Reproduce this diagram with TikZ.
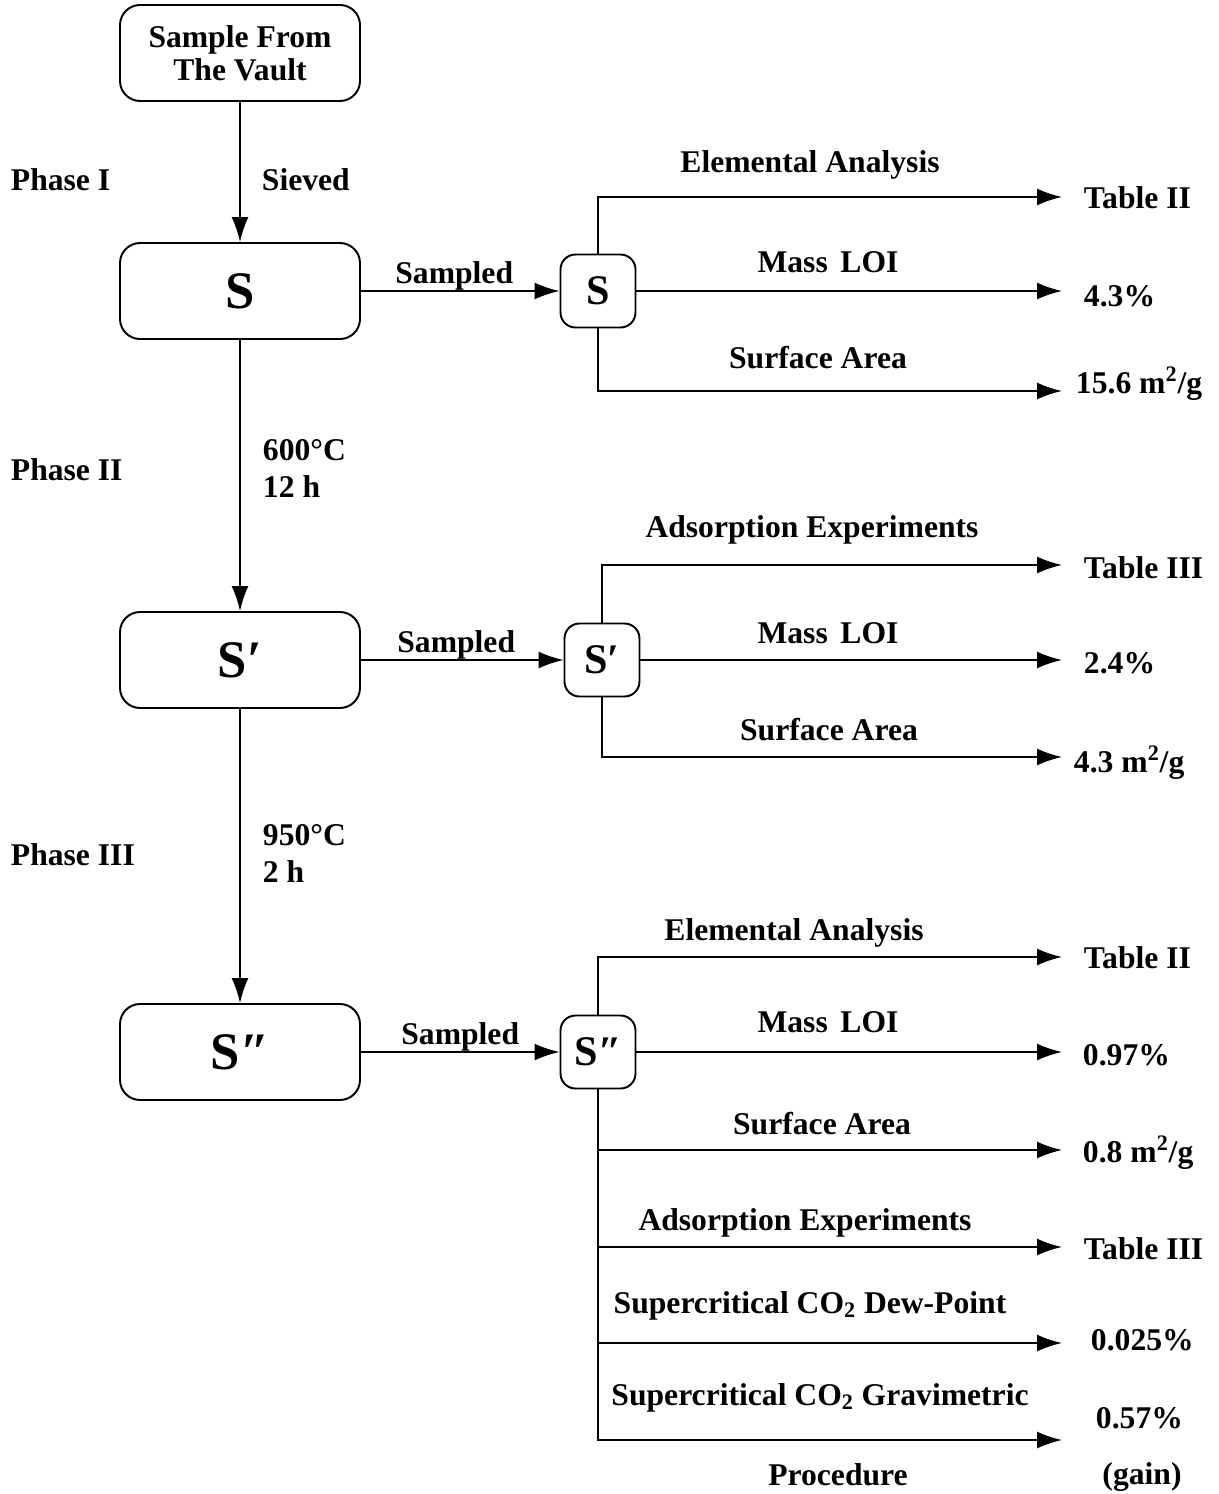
\documentclass[tikz,border=0pt]{standalone}
\usepackage{fontspec}
\setmainfont{Liberation Serif}
\usetikzlibrary{arrows.meta}
\tikzset{
  box/.style={draw, rounded corners=.4cm, minimum width=4.8cm, minimum height=1.92cm, font=\fontsize{30}{32}\selectfont\bfseries},
  smallbox/.style={draw, rounded corners=.3cm, minimum width=1.5cm, minimum height=1.46cm, inner sep=0pt, font=\fontsize{24}{26}\selectfont\bfseries},
  lbl/.style={anchor=base},
  res/.style={anchor=base west, inner xsep=0pt},
}
\begin{document}
\begin{tikzpicture}[x=0.02cm, y=-0.02cm, >={Latex[length=.5cm,width=.34cm]}, line width=1.1pt, every node/.append style={font=\fontsize{18}{21}\selectfont\bfseries}]
\useasboundingbox (0,0) rectangle (1218,1494);
% main chain
\node[box, font=\fontsize{18}{19}\selectfont\bfseries, align=center](vault) at (240,53){Sample From\\The Vault};
\node[box](s1) at (240,291){S};
\node[box](s2) at (240,660){S′};
\node[box](s3) at (240,1052){S″};
\draw[->](vault)--(s1);
\draw[->](s1)--(s2);
\draw[->](s2)--(s3);
\node[res](ph1) at (10,190){Phase I};
\node[res](sv) at (261,190){Sieved};
\node[res](ph2) at (10,480){Phase II};
\node[res](tp1) at (262,460){600°C};
\node[res](tm1) at (262,497){12 h};
\node[res](ph3) at (10,865){Phase III};
\node[res](tp2) at (262,845){950°C};
\node[res](tm2) at (262,882){2 h};

% samples
\node[smallbox](t1) at (598,291){S};
\node[smallbox](t2) at (602,660){S′};
\node[smallbox](t3) at (598,1052){S″};
\draw[->](s1.east)--(t1.west)node[midway, lbl, xshift=-.12cm, yshift=.15cm]{Sampled};
\draw[->](s2.east)--(t2.west)node[midway, lbl, xshift=-.12cm, yshift=.15cm]{Sampled};
\draw[->](s3.east)--(t3.west)node[midway, lbl, yshift=.15cm]{Sampled};

% group S
\coordinate(a1) at (1062,197);
\coordinate(a2) at (1062,291);
\coordinate(a3) at (1062,391);
\draw[->](t1.north)|-(a1);
\draw[->](t1.east)--(a2);
\draw[->](t1.south)|-(a3);
\node[lbl](ea1) at (810,172){Elemental Analysis};
\node[lbl](ml1) at (828,272){Mass\hspace{.4em}LOI};
\node[lbl](sa1) at (818,368){Surface Area};
\node[res](r1a) at (1083,208){Table II};
\node[res](r1b) at (1083,306){4.3\%};
\node[res](r1c) at (1075,393){15.6 m\textsuperscript{2}/g};

% group S'
\coordinate(b1) at (1062,565);
\coordinate(b2) at (1062,660);
\coordinate(b3) at (1062,757);
\draw[->](t2.north)|-(b1);
\draw[->](t2.east)--(b2);
\draw[->](t2.south)|-(b3);
\node[lbl](ae2) at (812,537){Adsorption Experiments};
\node[lbl](ml2) at (828,643){Mass\hspace{.4em}LOI};
\node[lbl](sa2) at (829,740){Surface Area};
\node[res](r2a) at (1083,578){Table III};
\node[res](r2b) at (1083,673){2.4\%};
\node[res](r2c) at (1073,772){4.3 m\textsuperscript{2}/g};

% group S''
\coordinate(c1) at (1062,957);
\coordinate(c2) at (1062,1052);
\coordinate(c3) at (1062,1150);
\coordinate(c4) at (1062,1247);
\coordinate(c5) at (1062,1343);
\coordinate(c6) at (1062,1440);
\draw[->](t3.north)|-(c1);
\draw[->](t3.east)--(c2);
\foreach \n in {3,...,6}
{
    \draw[->](t3.south)|-(c\n);
}
\node[lbl](ea3) at (794,940){Elemental Analysis};
\node[lbl](ml3) at (828,1032){Mass\hspace{.4em}LOI};
\node[lbl](sa3) at (822,1134){Surface Area};
\node[lbl](ae3) at (805,1230){Adsorption Experiments};
\node[lbl](dp3) at (810,1313){Supercritical CO\textsubscript{2} Dew-Point};
\node[lbl](gv3) at (820,1405){Supercritical CO\textsubscript{2} Gravimetric};
\node[lbl](pr3) at (838,1485){Procedure};
\node[res](r3a) at (1083,968){Table II};
\node[res](r3b) at (1082,1065){0.97\%};
\node[res](r3c) at (1082,1162){0.8 m\textsuperscript{2}/g};
\node[res](r3d) at (1083,1259){Table III};
\node[res](r3e) at (1090,1350){0.025\%};
\node[res](r3f) at (1095,1428){0.57\%};
\node[lbl](gn3) at (1142,1484){(gain)};
\end{tikzpicture}
\end{document}
